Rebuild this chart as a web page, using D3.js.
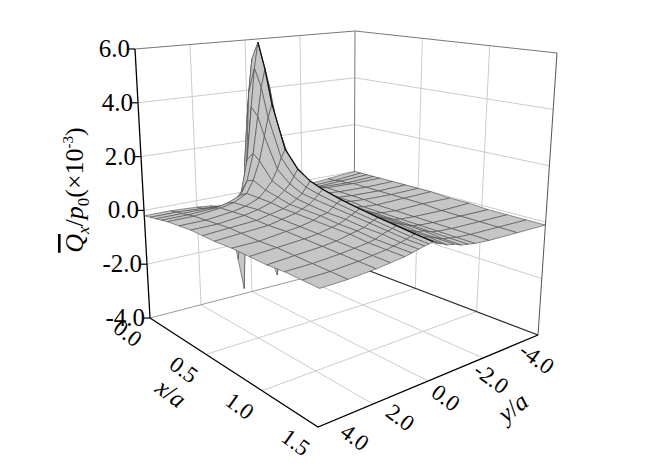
<!DOCTYPE html>
<html><head><meta charset="utf-8">
<script src="https://cdn.jsdelivr.net/npm/d3@7"></script>
<style>body{margin:0;background:#fff}svg{display:block}
svg text, svg tspan{font-family:"Liberation Serif","Tinos","DejaVu Serif","Times New Roman",serif !important;}</style>
</head><body><svg id="c" width="672" height="469"></svg>
<script>
const xs = [0,0.05,0.1,0.15,0.2,0.3,0.4,0.5,0.6,0.75,0.9,1.05,1.2,1.35,1.5];
const ys = [4,3,2,1.5,1,0.75,0.5,0.3,0.15,0,-0.15,-0.3,-0.5,-0.75,-1,-1.25,-1.5,-2,-3,-4];
const zRows = [
 [-0.2,-0.2,-0.25,-0.3,-0.4,-1.0,-2.6,-3.8,1.0,3.0,1.0,-1.0,-1.8,-2.8,-3.6,-1.5,-0.5,-0.2,-0.1,0],
 [-0.15,-0.15,-0.2,-0.25,-0.3,-0.5,-0.6,1.0,4.0,5.3,4.0,1.5,0.3,-0.6,-0.9,-0.5,-0.3,-0.15,-0.1,0],
 [-0.1,-0.1,-0.1,-0.1,0,0.3,1.5,3.5,5.0,6.0,5.0,3.5,1.8,0.6,0.2,0,-0.1,-0.1,-0.05,0],
 [-0.05,-0.05,0,0.1,0.3,0.8,1.8,3.2,4.3,5.0,4.3,3.2,2.0,1.0,0.5,0.2,0.1,0,-0.05,0],
 [0,0,0.1,0.2,0.45,0.9,1.6,2.5,3.2,3.7,3.0,2.3,1.6,1.0,0.6,0.3,0.15,0.05,0,0],
 [0.05,0.05,0.15,0.25,0.45,0.7,1.0,1.4,1.8,2.1,1.7,1.3,0.9,0.6,0.35,0.2,0.1,0.05,0,0],
 [0.1,0.1,0.2,0.3,0.45,0.6,0.8,1.0,1.25,1.5,1.15,0.85,0.6,0.4,0.25,0.15,0.1,0.05,0,0],
 [0.1,0.15,0.2,0.3,0.4,0.5,0.65,0.8,1.0,1.2,0.9,0.7,0.5,0.35,0.2,0.15,0.1,0.05,0,0],
 [0.1,0.15,0.2,0.3,0.4,0.5,0.6,0.75,0.9,1.05,0.8,0.6,0.45,0.3,0.2,0.1,0.05,0,0,0],
 [0.15,0.15,0.25,0.3,0.4,0.5,0.55,0.7,0.8,0.9,0.7,0.55,0.4,0.3,0.2,0.1,0.05,0,0,-0.05],
 [0.15,0.2,0.25,0.3,0.4,0.45,0.55,0.65,0.72,0.8,0.65,0.5,0.4,0.3,0.2,0.1,0.05,0,-0.05,-0.05],
 [0.15,0.2,0.25,0.3,0.4,0.45,0.5,0.6,0.66,0.72,0.6,0.5,0.4,0.3,0.2,0.1,0.05,0,-0.05,-0.1],
 [0.2,0.2,0.25,0.3,0.35,0.4,0.5,0.55,0.6,0.66,0.55,0.45,0.35,0.25,0.2,0.1,0.05,0,-0.05,-0.1],
 [0.2,0.2,0.25,0.3,0.35,0.4,0.45,0.5,0.55,0.6,0.5,0.4,0.35,0.25,0.15,0.1,0.05,0,-0.05,-0.1],
 [0.2,0.2,0.25,0.3,0.35,0.4,0.45,0.5,0.52,0.55,0.45,0.4,0.3,0.25,0.15,0.1,0.05,0,-0.05,-0.1]
];
const zTicks = [-4,-2,0,2,4,6];
const xTicks = [0,0.5,1.0,1.5];
const yTicks = [4,2,0,-2,-4];

const FONT = '"Liberation Serif", Tinos, "DejaVu Serif", serif';
const svg = d3.select("#c");
const su = d3.scaleLinear().domain([0,1.5]).range([0,1]);
const sv = d3.scaleLinear().domain([4,-4]).range([0,1]);
const sz = d3.scaleLinear().domain([-4,6]).range([0,10]);
const C = {L:[150,318,-1.5,-26.9], F:[318,427,0.4,-33], R:[538,335,1.9,-28.2], B:[354,265,0.1,-23.4]};
function P(x,y,z){
  const u=su(x), v=sv(y), h=sz(z);
  const w=[(1-u)*(1-v), u*(1-v), u*v, (1-u)*v];
  const k=["L","F","R","B"];
  let px=0,py=0;
  k.forEach((n,i)=>{const c=C[n]; px+=w[i]*(c[0]+h*c[2]); py+=w[i]*(c[1]+h*c[3]);});
  return [px,py];
}
const line = d3.line();
const gridC="#cccccc";
function seg(pts,stroke,sw){svg.append("path").attr("d",line(pts)).attr("fill","none").attr("stroke",stroke).attr("stroke-width",sw);}
function txt(){return svg.append("text").style("font-family",FONT).attr("fill","#000");}

zTicks.slice(1,-1).forEach(z=>{ seg([P(0,4,z),P(0,-4,z),P(1.5,-4,z)],gridC,1); });
yTicks.slice(1,-1).forEach(y=>{ seg([P(0,y,-4),P(0,y,6)],gridC,1); seg([P(0,y,-4),P(1.5,y,-4)],gridC,1); });
xTicks.slice(1,-1).forEach(x=>{ seg([P(x,-4,-4),P(x,-4,6)],gridC,1); seg([P(x,-4,-4),P(x,4,-4)],gridC,1); });
seg([P(0,4,6),P(0,-4,6),P(1.5,-4,6)],"#777",1);
seg([P(0,-4,-4),P(0,-4,6)],"#777",1);
seg([P(1.5,-4,-4),P(1.5,-4,6)],"#555",1);
seg([P(0,4,-4),P(0,-4,-4)],"#999",1);
seg([P(0,-4,-4),P(1.5,-4,-4)],"#222",1.2);
seg([P(0,4,-4),P(0,4,6)],"#000",1.3);
seg([P(0,4,-4),P(1.5,4,-4),P(1.5,-4,-4)],"#000",1.3);

zTicks.forEach(z=>{
  const p=P(0,4,z);
  seg([p,[p[0]-6,p[1]]],"#000",1.2);
  txt().attr("x",p[0]-5).attr("y",p[1]+8).attr("text-anchor","end").attr("font-size",25).text(z.toFixed(1));
});
xTicks.forEach(x=>{
  const p=P(x,4,-4);
  const q=[p[0]-22,p[1]+15];
  txt().attr("transform",`translate(${q[0]},${q[1]}) rotate(36)`).attr("text-anchor","middle")
    .attr("dy","0.35em").attr("font-size",23).text(x.toFixed(1));
});
yTicks.forEach(y=>{
  const p=P(1.5,y,-4), v=sv(y);
  const q=[p[0]+37-38*v,p[1]+10+13*v];
  txt().attr("transform",`translate(${q[0]},${q[1]}) rotate(36)`).attr("text-anchor","middle")
    .attr("dy","0.35em").attr("font-size",23).text(y.toFixed(1));
});
const tx=txt().attr("transform","translate(166,400) rotate(36)").attr("text-anchor","middle").attr("font-size",25);
tx.append("tspan").attr("font-style","italic").text("x");
tx.append("tspan").text("/");
tx.append("tspan").attr("font-style","italic").text("a");
const ty=txt().attr("transform","translate(518,414) rotate(-38)").attr("text-anchor","middle").attr("font-size",25);
ty.append("tspan").attr("font-style","italic").text("y");
ty.append("tspan").text("/");
ty.append("tspan").attr("font-style","italic").text("a");
const tz=txt().attr("transform","translate(83,190) rotate(-90)").attr("text-anchor","middle").attr("font-size",26);
tz.append("tspan").attr("font-style","italic").attr("text-decoration","overline").text("Q");
tz.append("tspan").attr("font-style","italic").attr("font-size",17).attr("dy",6).text("x");
tz.append("tspan").attr("dy",-6).text("/");
tz.append("tspan").attr("font-style","italic").text("p");
tz.append("tspan").attr("font-size",17).attr("dy",6).text("0");
tz.append("tspan").attr("dy",-6).text("(×10");
tz.append("tspan").attr("font-size",15).attr("dy",-10).text("-3");
tz.append("tspan").attr("dy",10).text(")");

const quads=[];
for(let i=0;i<xs.length-1;i++) for(let j=0;j<ys.length-1;j++){
  const pts=[P(xs[i],ys[j],zRows[i][j]),P(xs[i+1],ys[j],zRows[i+1][j]),P(xs[i+1],ys[j+1],zRows[i+1][j+1]),P(xs[i],ys[j+1],zRows[i][j+1])];
  const uc=su((xs[i]+xs[i+1])/2), vc=sv((ys[j]+ys[j+1])/2);
  quads.push({pts,key:(1-uc)+vc});
}
quads.sort((a,b)=>b.key-a.key);
svg.append("g").selectAll("path").data(quads).join("path")
  .attr("d",d=>line(d.pts)+"Z").attr("fill","#c6c6c6").attr("stroke","#4a4a4a").attr("stroke-width",0.6).attr("stroke-linejoin","round");
const j0=ys.indexOf(0);
seg(xs.map((x,i)=>P(x,0,zRows[i][j0])).filter((p,i)=>xs[i]>=0.1),"#111",1.3);
</script></body></html>
